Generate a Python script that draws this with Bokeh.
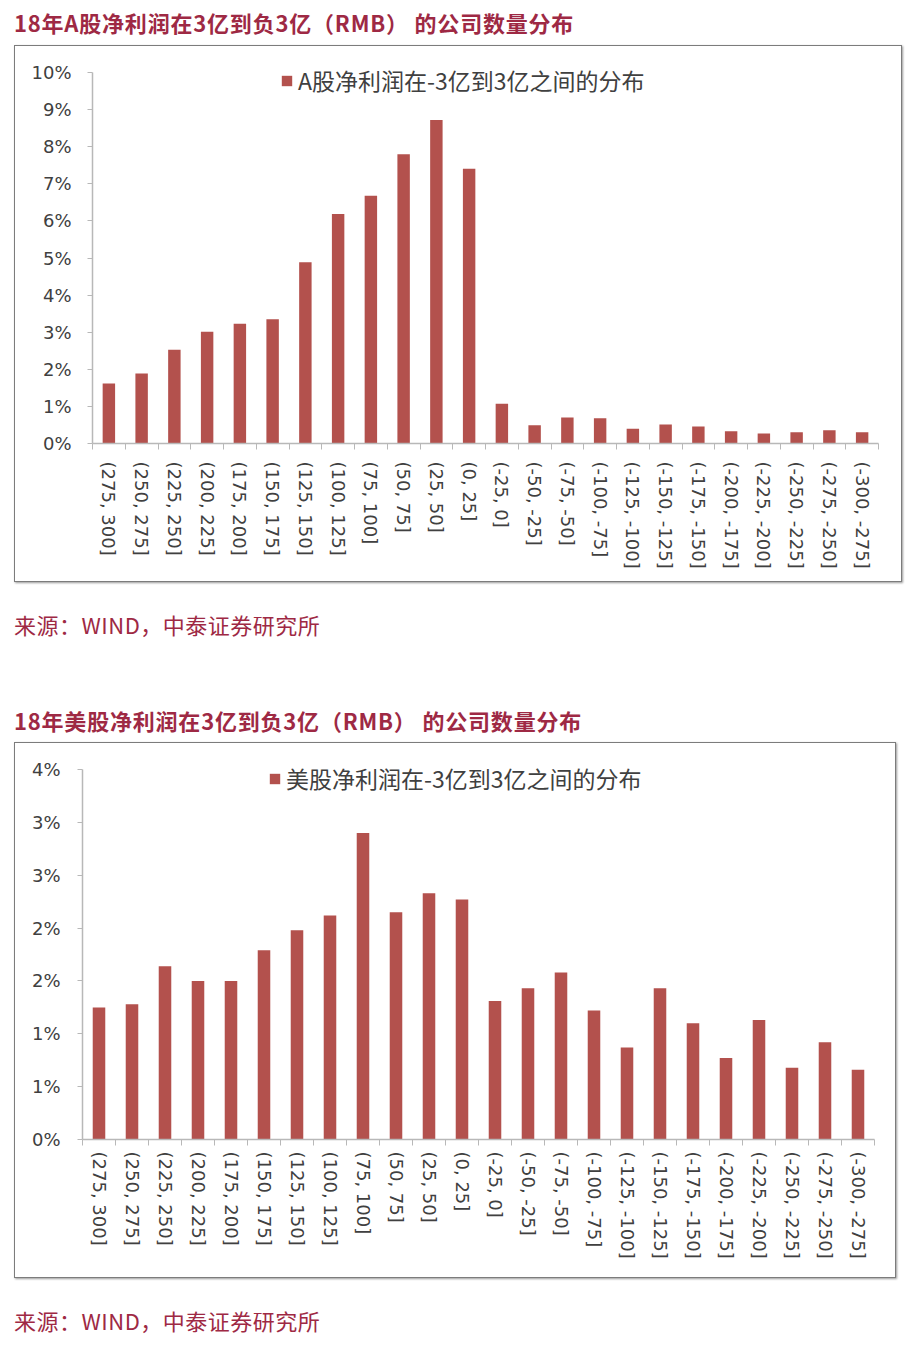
from bokeh.plotting import figure
from bokeh.models import Div, FixedTicker, Legend, LegendItem, ColumnDataSource, Range1d
from bokeh.layouts import column
from bokeh.embed import file_html
from bokeh.resources import INLINE

# ---------------- data ----------------
categories = ["(275, 300]", "(250, 275]", "(225, 250]", "(200, 225]", "(175, 200]",
              "(150, 175]", "(125, 150]", "(100, 125]", "(75, 100]", "(50, 75]",
              "(25, 50]", "(0, 25]", "(-25, 0]", "(-50, -25]", "(-75, -50]",
              "(-100, -75]", "(-125, -100]", "(-150, -125]", "(-175, -150]",
              "(-200, -175]", "(-225, -200]", "(-250, -225]", "(-275, -250]",
              "(-300, -275]"]

a_share_pct = [1.62, 1.89, 2.53, 3.01, 3.23, 3.35, 4.89, 6.19, 6.68, 7.80, 8.72, 7.41,
               1.07, 0.49, 0.70, 0.68, 0.40, 0.51, 0.46, 0.33, 0.27, 0.30, 0.36, 0.30]

us_share_pct = [1.25, 1.28, 1.64, 1.50, 1.50, 1.79, 1.98, 2.12, 2.90, 2.15, 2.33, 2.27,
                1.31, 1.43, 1.58, 1.22, 0.87, 1.43, 1.10, 0.77, 1.13, 0.68, 0.92, 0.66]

a_yticks = [0, 1, 2, 3, 4, 5, 6, 7, 8, 9, 10]
a_ytick_labels = ["0%", "1%", "2%", "3%", "4%", "5%", "6%", "7%", "8%", "9%", "10%"]

us_yticks = [0, 0.5, 1.0, 1.5, 2.0, 2.5, 3.0, 3.5]
us_ytick_labels = ["0%", "1%", "1%", "2%", "2%", "3%", "3%", "4%"]

title_a = "18年A股净利润在3亿到负3亿（RMB） 的公司数量分布"
title_us = "18年美股净利润在3亿到负3亿（RMB） 的公司数量分布"
legend_a = "A股净利润在-3亿到3亿之间的分布"
legend_us = "美股净利润在-3亿到3亿之间的分布"
source_text = "来源：WIND，中泰证券研究所"

# ---------------- style ----------------
BAR = "#b3514d"
AXIS = "#b8b8b8"
TEXT = "#404040"
RED = "#9e2944"
CJK = "Noto Sans CJK SC"
FRAME_STYLE = {"border": "1px solid #7c7c7c", "box-shadow": "1px 1px 2px 0px #9a9a9a"}

AXIS_PX = 368.7      # pixel length of the y axis line
HEADROOM_PX = 20     # empty frame space above the axis top (holds the legend)


def make_chart(values, legend_text, ymax, yticks, ylabels, width, height,
               left, right, legend_loc, ystand, xstand):
    y_end = ymax * (AXIS_PX + HEADROOM_PX) / AXIS_PX
    p = figure(width=width, height=height,
               x_range=Range1d(-0.5, len(categories) - 0.5),
               y_range=Range1d(0, y_end),
               output_backend="svg", toolbar_location=None,
               min_border_left=left, min_border_right=right,
               min_border_top=26 - HEADROOM_PX, min_border_bottom=140,
               styles=FRAME_STYLE, margin=(0, 0, 0, 6))
    p.frame_align = False
    p.outline_line_color = None
    p.xgrid.visible = False
    p.ygrid.visible = False
    p.background_fill_color = "white"
    p.border_fill_color = "white"

    xs = list(range(len(categories)))
    src = ColumnDataSource(dict(x=xs, y=values))
    r = p.vbar(x="x", top="y", width=0.38, source=src,
               fill_color=BAR, line_color=None)

    xa = p.xaxis[0]
    xa.ticker = FixedTicker(ticks=xs, minor_ticks=[i - 0.5 for i in range(len(categories) + 1)])
    xa.major_label_overrides = {i: c for i, c in enumerate(categories)}
    xa.major_label_orientation = "vertical"
    xa.major_tick_out = 0
    xa.major_tick_in = 0
    xa.minor_tick_out = 6
    xa.minor_tick_in = 0
    xa.axis_line_color = AXIS
    xa.minor_tick_line_color = AXIS
    xa.axis_line_width = 1.5
    xa.major_label_text_font = "DejaVu Sans"
    xa.major_label_text_font_size = "18px"
    xa.major_label_text_color = TEXT
    xa.major_label_standoff = xstand

    ya = p.yaxis[0]
    ya.bounds = (0, ymax)
    ya.ticker = FixedTicker(ticks=yticks)
    ya.major_label_overrides = dict(zip(yticks, ylabels))
    ya.minor_tick_line_color = None
    ya.major_tick_out = 5
    ya.major_tick_in = 0
    ya.axis_line_color = AXIS
    ya.major_tick_line_color = AXIS
    ya.axis_line_width = 1.5
    ya.major_label_text_font = "DejaVu Sans"
    ya.major_label_text_font_size = "18px"
    ya.major_label_text_color = TEXT
    ya.major_label_standoff = ystand

    leg = Legend(items=[LegendItem(label=legend_text, renderers=[r])],
                 location=legend_loc, padding=0, margin=0,
                 glyph_width=13, glyph_height=13, label_standoff=5,
                 label_height=30,
                 label_text_font=CJK, label_text_font_size="23px",
                 label_text_color=TEXT, border_line_color=None,
                 background_fill_alpha=0)
    p.add_layout(leg)
    return p


def text_div(txt, height, top, bold, width=900):
    weight = "bold" if bold else "normal"
    spacing = "0.8px" if bold else "0.5px"
    html = (f'<div style="font-family:\'{CJK}\'; font-weight:{weight}; font-size:22px; '
            f'color:{RED}; margin-left:6px; margin-top:{top}px; line-height:28px; '
            f'letter-spacing:{spacing}; white-space:nowrap;">{txt}</div>')
    return Div(text=html, width=width, height=height, margin=(0, 0, 0, 0))


p1 = make_chart(a_share_pct, legend_a, 10, a_yticks, a_ytick_labels,
                888, 537, 77, 25, (188, 346), 16, 12)
p2 = make_chart(us_share_pct, legend_us, 3.5, us_yticks, us_ytick_labels,
                882, 536, 67, 23, (186, 344), 17, 6)

layout = column(
    text_div(title_a, 37, 0, True),
    p1,
    text_div(source_text, 118, 28, False),
    text_div(title_us, 42, 6, True),
    p2,
    text_div(source_text, 50, 28, False),
    spacing=0,
    margin=(8, 0, 0, 8),
)

open("out.html", "w").write(file_html(layout, INLINE))
